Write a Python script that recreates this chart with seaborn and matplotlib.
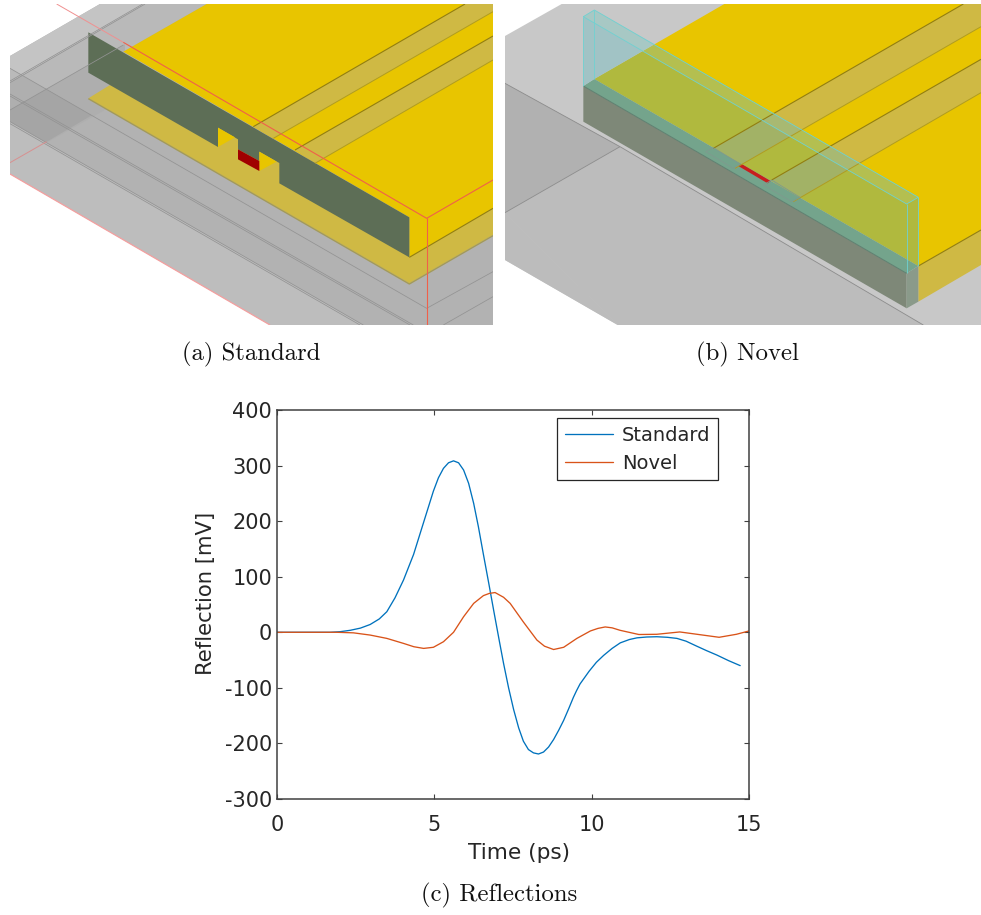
import matplotlib
matplotlib.use("Agg")
import matplotlib.pyplot as plt
from matplotlib.patches import Polygon
import pandas as pd
import seaborn as sns

# ---------- series ----------
standard_t = [0, 1, 1.69, 2.0, 2.33, 2.65, 2.96, 3.25, 3.49, 3.75, 4.02, 4.34, 4.66, 4.97, 5.13, 5.29, 5.45,
              5.61, 5.77, 5.93, 6.09, 6.25, 6.40, 6.56, 6.74, 6.9, 7.07, 7.2, 7.36, 7.52, 7.68, 7.83,
              7.99, 8.15, 8.31, 8.47, 8.63, 8.79, 8.95, 9.11, 9.27, 9.42, 9.52, 9.63, 9.92, 10.15, 10.38,
              10.65, 10.91, 11.2, 11.44, 11.75, 12.07, 12.4, 12.71, 13.0, 13.34, 13.65, 13.98, 14.35, 14.72]
standard_mv = [0, 0, 0, 1, 3.6, 7.5, 14, 24, 37, 62, 94, 140, 198, 254, 278, 295, 305,
               308.5, 305, 292, 268, 232, 190, 140, 85, 35, -17, -56, -100, -139, -172, -196,
               -211, -217, -219, -215.5, -206.5, -193, -176.5, -158.5, -137.5, -117, -105, -93, -70, -54, -41.6,
               -29, -19, -13, -10, -8.5, -8, -9, -11, -16, -25, -33, -41, -51, -60]
novel_t = [0, 1, 1.9, 2.43, 2.96, 3.49, 4.02, 4.35, 4.66, 4.97, 5.29, 5.61, 5.93, 6.25, 6.56, 6.75, 6.93,
           7.2, 7.41, 7.83, 8.26, 8.5, 8.79, 9.11, 9.53, 9.96, 10.2, 10.43, 10.65, 10.9, 11.5, 12.07, 12.8, 13.4,
           14.05, 14.6, 15]
novel_mv = [0, 0, 0, -1, -5, -11, -20, -26, -29, -27, -17, 0, 28, 52, 66, 70, 71.5,
            63, 52, 18.5, -14, -25, -31, -27, -11, 2.4, 7, 9.6, 8, 3.6, -4, -3.6, 0.6, -4,
            -9, -3.6, 2.4]

series_names = ["Standard", "Novel"]
series_colors = ["#0072BD", "#D95319"]
x_ticks = [0, 5, 10, 15]
y_ticks = [-300, -200, -100, 0, 100, 200, 300, 400]
captions = ["(a) Standard", "(b) Novel", "(c) Reflections"]

# ---------- figure ----------
W, H = 981, 915
sns.set_theme(style="white")
plt.rcParams["font.family"] = ["DejaVu Sans"]
plt.rcParams["axes.unicode_minus"] = False
fig = plt.figure(figsize=(W / 100, H / 100), dpi=100)


def px_axes(left, top, right, bottom):
    return fig.add_axes([left / W, 1 - bottom / H, (right - left) / W, (bottom - top) / H])


def fill(ax, pts, color, **kw):
    kw.setdefault("lw", 0)
    ax.add_patch(Polygon(pts, closed=True, facecolor=color, edgecolor=kw.pop("ec", "none"), **kw))


def seg(ax, pts, color, lw=0.7, alpha=1.0):
    ax.plot([p[0] for p in pts], [p[1] for p in pts], color=color, lw=lw, alpha=alpha,
            solid_capstyle="butt")


YEL, TAN = "#e8c500", "#cfb944"

# ---------- panel (a): schematic drawn in the panel's own scale ----------
a = px_axes(10, 4, 493, 325)
a.set_xlim(30, 1479); a.set_ylim(975, 12); a.axis("off")
fill(a, [(30, 168), (300, 12), (1479, 12), (1479, 975), (810, 975), (30, 522)], "#b2b2b2")
fill(a, [(30, 168), (300, 12), (435, 12), (30, 248)], "#c4c4c4")
fill(a, [(30, 248), (435, 12), (620, 12), (370, 155), (30, 330)], "#b9b9b9")
fill(a, [(30, 330), (375, 132), (375, 230), (330, 262), (265, 295), (320, 327), (30, 490)], "#aeaeae")
fill(a, [(30, 205), (275, 346), (30, 490)], "#000000", alpha=0.05)
fill(a, [(30, 365), (1090, 975), (810, 975), (30, 522)], "#bdbdbd")
for line in ([(30, 205), (1280, 925)], [(30, 282), (1240, 975)], [(30, 288), (1230, 975)],
             [(30, 365), (1090, 975)], [(30, 371), (1080, 975)], [(1280, 925), (1479, 815)],
             [(1330, 975), (1479, 890)], [(30, 248), (435, 12)], [(30, 243), (428, 12)],
             [(30, 330), (370, 135)]):
    seg(a, line, "#939393", 0.55)
fill(a, [(265, 295), (330, 255), (654, 380), (1228, 700), (1228, 772), (1479, 625), (1479, 705), (1228, 850)], TAN)
seg(a, [(265, 296), (1228, 852), (1479, 707)], "#a39a5a", 1.0)
fill(a, [(620, 12), (1479, 12), (1479, 625), (1228, 772), (1228, 652), (370, 155)], YEL)
fill(a, [(1395, 12), (1479, 12), (1479, 35), (820, 415), (760, 380)], TAN)
fill(a, [(1479, 108), (1479, 180), (945, 490), (885, 450)], TAN)
for line in ([(1395, 12), (760, 380)], [(1479, 108), (885, 450)], [(1228, 772), (1479, 625)]):
    seg(a, line, "#927e10", 0.8)
for line in ([(1479, 35), (820, 415)], [(1479, 180), (945, 490)]):
    seg(a, line, "#b09c20", 0.7)
fill(a, [(265, 97), (1228, 652), (1228, 772), (838, 550), (838, 489), (778, 455), (778, 483),
         (714, 448), (714, 418), (654, 383), (654, 441), (265, 218)], "#5d6e56")
fill(a, [(654, 383), (654, 441), (705, 412)], YEL)
fill(a, [(778, 455), (778, 513), (830, 485)], YEL)
fill(a, [(714, 448), (778, 483), (778, 513), (714, 478)], "#a00000")
for line, col, lw in (([(170, 12), (370, 127)], "#f09090", 0.7), ([(370, 127), (1280, 655), (1479, 540)], "#f0604a", 0.8),
                      ([(1280, 655), (1280, 975)], "#f0604a", 0.8),
                      ([(30, 522), (810, 975)], "#f4a0a0", 0.9), ([(30, 488), (140, 425)], "#d89090", 0.7)):
    seg(a, line, col, lw)

# ---------- panel (b): schematic drawn in the panel's own scale ----------
b = px_axes(505, 4, 981, 325)
b.set_xlim(30, 1458); b.set_ylim(975, 12); b.axis("off")
fill(b, [(30, 108), (200, 12), (1458, 12), (1458, 975), (368, 975), (30, 780)], "#c8c8c8")
fill(b, [(30, 250), (375, 440), (30, 638)], "#b1b1b1")
fill(b, [(30, 638), (375, 440), (1285, 975), (368, 975)], "#bcbcbc")
fill(b, [(30, 638), (368, 975), (30, 780)], "#bcbcbc")
for line in ([(30, 250), (375, 440)], [(30, 638), (375, 440)], [(375, 440), (1285, 975)]):
    seg(b, line, "#8c8c8c", 0.6)
fill(b, [(688, 12), (1458, 12), (1458, 690), (1270, 798), (298, 237)], YEL)
fill(b, [(1405, 12), (1458, 12), (1458, 80), (720, 505), (655, 445)], TAN)
fill(b, [(1458, 178), (1458, 278), (895, 605), (830, 540)], TAN)
fill(b, [(1270, 798), (1458, 690), (1458, 795), (1270, 905)], TAN)
for line in ([(1405, 12), (655, 445)], [(1458, 178), (830, 540)], [(1270, 798), (1458, 690)]):
    seg(b, line, "#927e10", 0.8)
for line in ([(1458, 80), (720, 505)], [(1458, 278), (895, 605)]):
    seg(b, line, "#b09c20", 0.7)
fill(b, [(265, 258), (1235, 820), (1235, 925), (265, 365)], "#7e8878")
fill(b, [(1235, 820), (1270, 798), (1270, 905), (1235, 925)], "#8a9a8a")
fill(b, [(265, 258), (298, 237), (1270, 798), (1235, 820)], "#74a48c")
seg(b, [(265, 258), (1235, 820)], "#5e8070", 0.7)
fill(b, [(298, 237), (478, 133), (1270, 592), (1270, 798)], "#64aa96", alpha=0.42)
fill(b, [(265, 50), (298, 30), (478, 133), (298, 237), (265, 258)], "#a1c3c5")
fill(b, [(265, 50), (298, 30), (1270, 592), (1235, 612)], "#cfe8c0", alpha=0.14)
for line in ([(265, 50), (298, 30), (1270, 592), (1235, 612), (265, 50)], [(265, 50), (265, 258)],
             [(298, 30), (298, 237)], [(1235, 612), (1235, 820)], [(1270, 592), (1270, 798)]):
    seg(b, line, "#6fd2d2", 0.6)
for pts in ([(632, 455), (655, 443), (735, 492), (715, 505), (632, 455)],
            [(805, 555), (830, 540), (915, 592), (890, 605), (805, 555)]):
    seg(b, pts, "#7f9a8e", 0.6)
fill(b, [(730, 498), (740, 492), (827, 543), (818, 550)], "#c81e1e")

# ---------- panel (c): the measured reflections ----------
ax = px_axes(277, 410, 749, 799)
df = pd.concat([
    pd.DataFrame({"Time": standard_t, "Reflection": standard_mv, "Design": series_names[0]}),
    pd.DataFrame({"Time": novel_t, "Reflection": novel_mv, "Design": series_names[1]}),
])
sns.lineplot(data=df, x="Time", y="Reflection", hue="Design", hue_order=series_names,
             palette=series_colors, estimator=None, errorbar=None, sort=False, lw=0.95, ax=ax)
ax.set_xlim(0, 15); ax.set_ylim(-300, 400)
ax.set_xticks(x_ticks); ax.set_yticks(y_ticks)
ax.tick_params(which="both", direction="in", length=3.6, width=0.8, color="#404040",
               labelcolor="#262626", labelsize=15, top=True, right=True, bottom=True, left=True)
ax.tick_params(axis="x", pad=11.5)
ax.tick_params(axis="y", pad=3.5)
ax.set_xlabel("Time (ps)", fontsize=15.6, color="#262626", va="center")
ax.set_ylabel("Reflection [mV]", fontsize=15.2, color="#262626", va="center")
ax.xaxis.set_label_coords((519 - 277) / 472, (799 - 853) / 389)
ax.yaxis.set_label_coords((206 - 277) / 472, (799 - 593.5) / 389)
for s in ax.spines.values():
    s.set_visible(True); s.set_color("#404040"); s.set_linewidth(1.1)
leg = ax.legend(loc="upper right", bbox_to_anchor=(0.934, 0.979), borderaxespad=0, fancybox=False,
                framealpha=1, edgecolor="#262626", fontsize=14, handlelength=2.5,
                handletextpad=0.45, borderpad=0.38, labelspacing=0.48, title=None)
leg.get_frame().set_linewidth(0.9)

# ---------- captions ----------
for label, cx, cy in zip(captions, (251.5, 747, 499.5), (354, 354, 895)):
    fig.text(cx / W, 1 - cy / H, label, ha="center", va="center", family="cmr10", fontsize=17.8, color="#111111")

fig.savefig("out.png", dpi=100)
